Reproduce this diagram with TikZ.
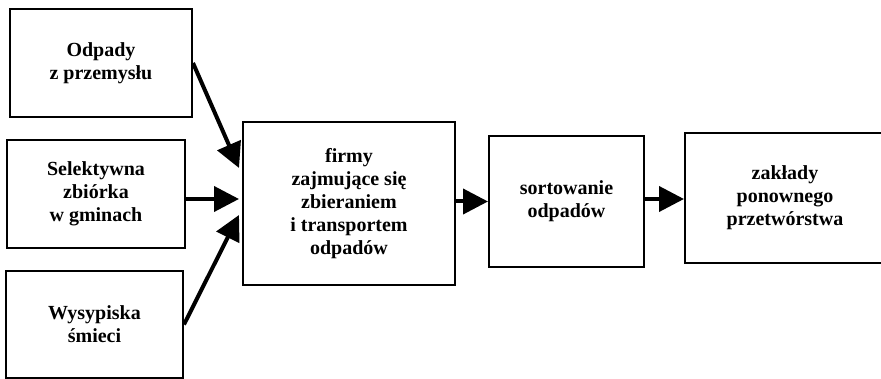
\documentclass[tikz,border=0pt]{standalone}
\usepackage{fontspec}
\setmainfont{Liberation Serif}
\usetikzlibrary{arrows.meta}
\tikzset{
  box/.style={draw, line width=2pt, rectangle, align=center, inner sep=0pt,
    font=\fontsize{20}{23}\selectfont\bfseries},
  flow/.style={line width=4pt, -{Triangle[length=25pt,width=25pt]}}
}
\begin{document}
\begin{tikzpicture}[x=1pt,y=-1pt]
\useasboundingbox (0,0) rectangle (881,379);
\node[box, minimum width=182pt, minimum height=108pt] (b1) at (101,63) {Odpady\\z przemysłu};
\node[box, minimum width=178pt, minimum height=108pt] (b2) at (96,194) {Selektywna\\zbiórka\\w gminach};
\node[box, minimum width=177pt, minimum height=107pt] (b3) at (94.5,324.5) {Wysypiska\\śmieci};
\node[box, minimum width=212pt, minimum height=163pt] (c) at (349,203.5) {firmy\\zajmujące się\\zbieraniem\\i transportem\\odpadów};
\node[box, minimum width=155pt, minimum height=131pt] (s) at (566.5,201.5) {sortowanie\\odpadów};
\node[box, minimum width=200pt, minimum height=130pt] (l) at (785,198) {zakłady\\ponownego\\przetwórstwa};
\coordinate (t1) at (239,168);
\coordinate (f2) at (185,199);
\coordinate (t2) at (239,199);
\coordinate (t3) at (239,215);
\draw[flow] (b1.east) -- (t1);
\draw[flow] (f2) -- (t2);
\draw[flow] (b3.east) -- (t3);
\draw[flow] (c.east |- s.west) -- (s.west);
\draw[flow] (s.east |- 0,199) -- (l.west |- 0,199);
\end{tikzpicture}
\end{document}
